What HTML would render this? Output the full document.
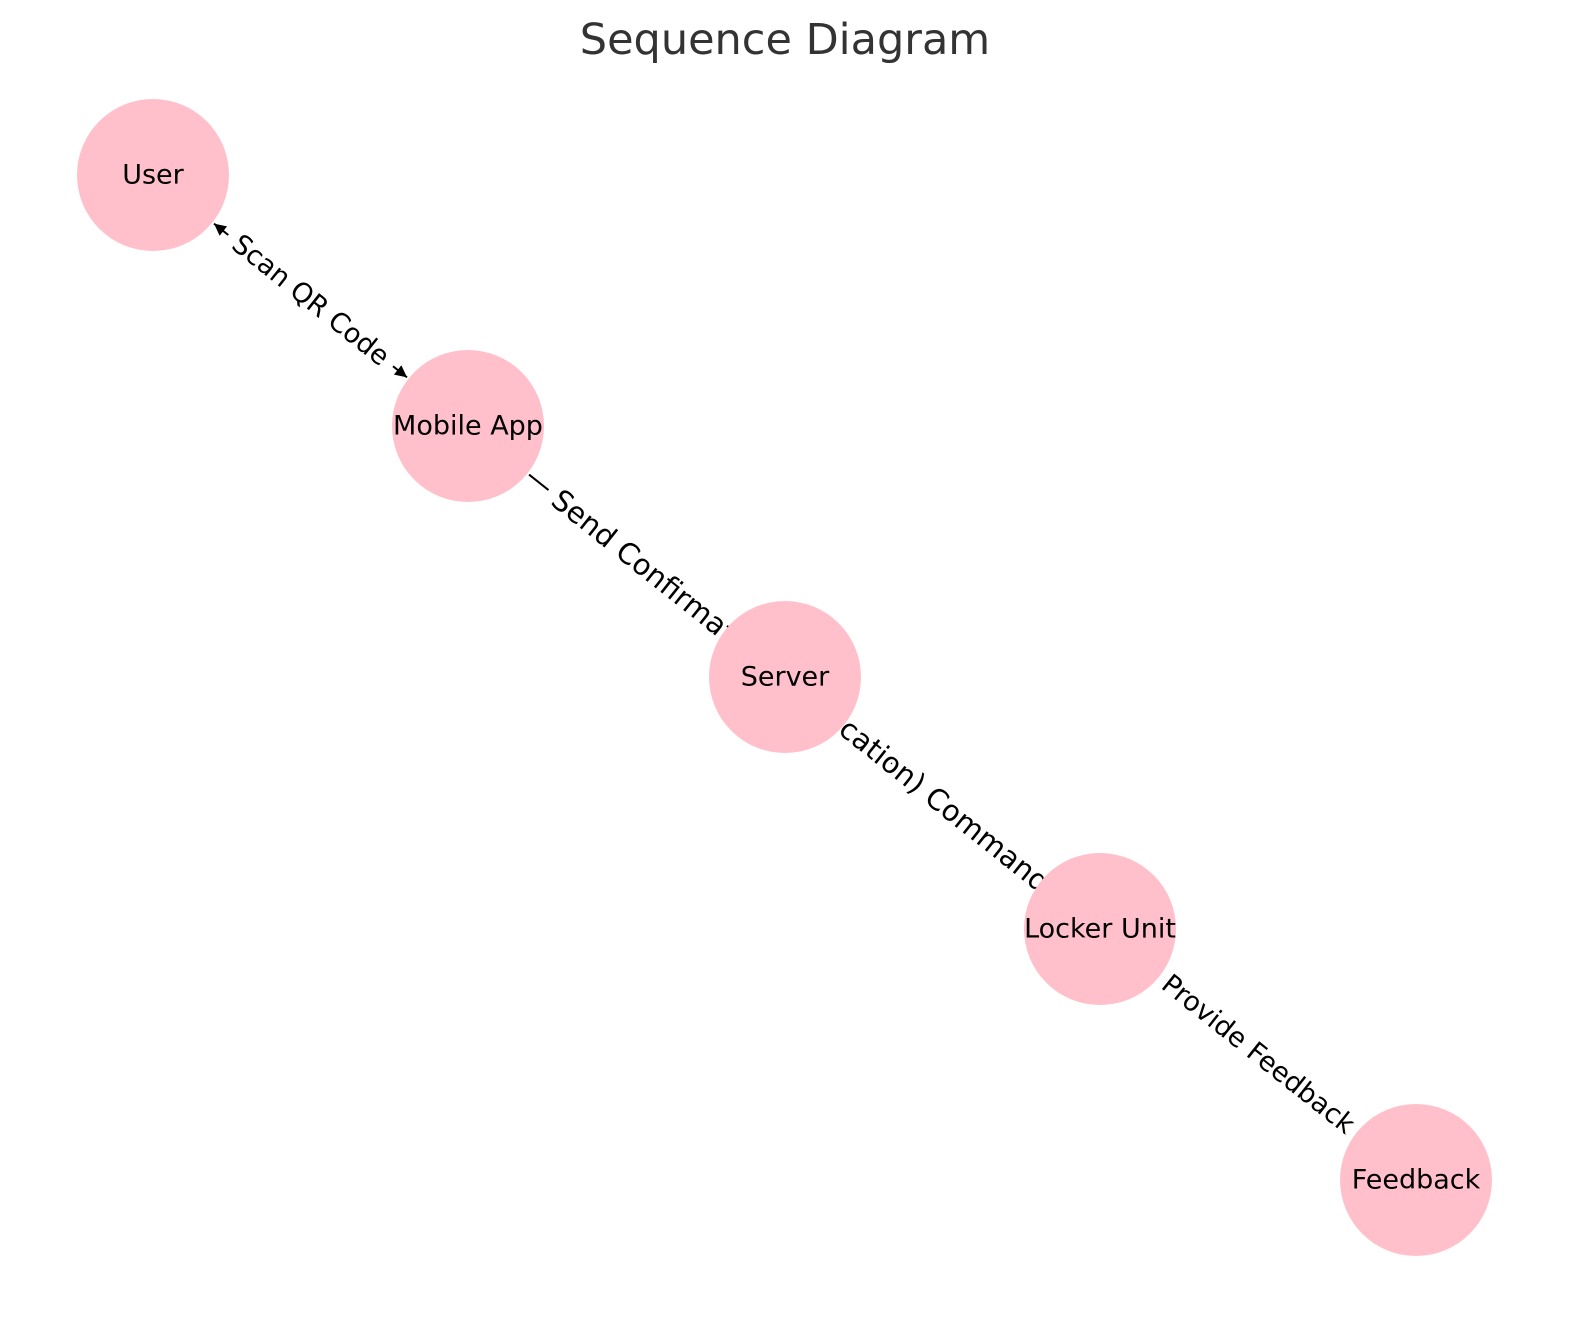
<!DOCTYPE html>
<html><head><meta charset="utf-8"><style>
html,body{margin:0;padding:0;background:#fff;}
svg{display:block;font-family:"DejaVu Sans","Liberation Sans",sans-serif;}
</style></head><body>
<svg width="1589" height="1322" viewBox="0 0 1589 1322">
<defs><marker id="ah" viewBox="0 0 10 10" refX="10" refY="5" markerWidth="6" markerHeight="6" orient="auto-start-reverse"><path d="M0,0 L10,5 L0,10 z" fill="#000"/></marker></defs>
<text x="785" y="40" text-anchor="middle" dominant-baseline="central" font-size="43" fill="#333">Sequence Diagram</text>
<g id="edges"></g>
<g id="labels"></g>
<g id="nodes"></g>
</svg>
<script>
const nodeNames=["User","Mobile App","Server","Locker Unit","Feedback"];
const nodeX=[153,468,785,1100,1416];
const nodeY=[175,426,677,929,1180];
const edgeFrom=[0,1,3];
const edgeTo=[1,3,4];
const edgeLabels=["Scan QR Code","Send Confirmation (Notification) Command","Provide Feedback"];
const ns="http://www.w3.org/2000/svg";
const R=76;
const E=document.getElementById('edges'),L=document.getElementById('labels'),N=document.getElementById('nodes');
edgeFrom.forEach((f,i)=>{
  const t=edgeTo[i];
  const x1=nodeX[f],y1=nodeY[f],x2=nodeX[t],y2=nodeY[t];
  const d=Math.hypot(x2-x1,y2-y1),ux=(x2-x1)/d,uy=(y2-y1)/d;
  const ln=document.createElementNS(ns,'line');
  
  
  ln.setAttribute('x1',x1+ux*(R+2));ln.setAttribute('y1',y1+uy*(R+2));
  ln.setAttribute('x2',x2-ux*(R+2));ln.setAttribute('y2',y2-uy*(R+2));
  ln.setAttribute('stroke','#000');ln.setAttribute('stroke-width','2');
  if(i===0){ln.setAttribute('marker-start','url(#ah)');ln.setAttribute('marker-end','url(#ah)');}
  E.appendChild(ln);
  const ang=Math.atan2(y2-y1,x2-x1)*180/Math.PI;
  const tx=document.createElementNS(ns,'text');
  
  
  let px,py,anchor='middle';
  if(i===1){px=x1+ux*112;py=y1+uy*112;anchor='start';}else{px=(x1+x2)/2;py=(y1+y2)/2;}
  tx.setAttribute('x',px);tx.setAttribute('y',py);
  tx.setAttribute('text-anchor',anchor);
  tx.setAttribute('dominant-baseline','central');
  tx.setAttribute('font-size',i===1?'29':'27');
  tx.setAttribute('transform','rotate('+ang+' '+px+' '+py+')');
  tx.setAttribute('style','paint-order:stroke;stroke:#fff;stroke-width:22px;stroke-linejoin:miter');
  tx.textContent=edgeLabels[i];
  L.appendChild(tx);
});
nodeNames.forEach((n,i)=>{
  const g=document.createElementNS(ns,'g');
  
  
  const c=document.createElementNS(ns,'circle');
  c.setAttribute('cx',nodeX[i]);c.setAttribute('cy',nodeY[i]);c.setAttribute('r',R);c.setAttribute('fill','#ffc0cb');
  g.appendChild(c);
  const t=document.createElementNS(ns,'text');
  t.setAttribute('x',nodeX[i]);t.setAttribute('y',nodeY[i]);
  t.setAttribute('text-anchor','middle');t.setAttribute('dominant-baseline','central');
  t.setAttribute('font-size','27');t.textContent=n;
  g.appendChild(t);
  N.appendChild(g);
});
</script>
</body></html>
